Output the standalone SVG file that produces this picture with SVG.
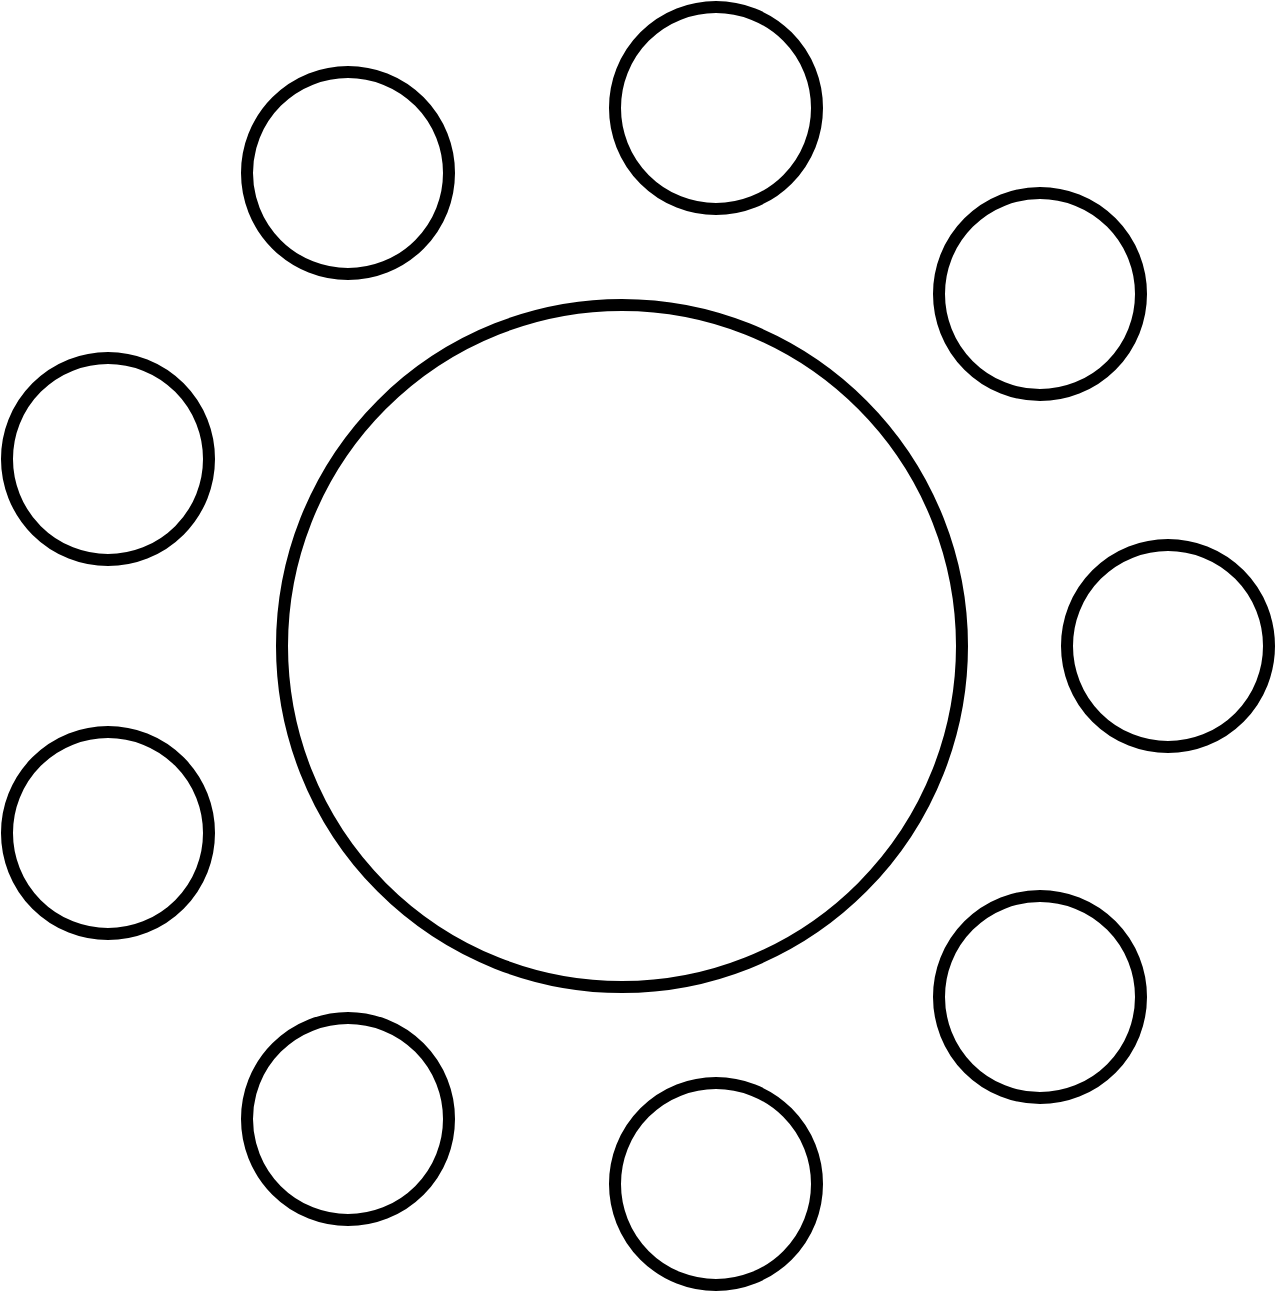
<svg xmlns="http://www.w3.org/2000/svg" width="1277" height="1293" viewBox="0 0 1277 1293">
<style>
.c{fill:#fff;stroke:#000;stroke-width:12}
</style>
<rect width="1277" height="1293" fill="#fff"/>
<g id="center"><ellipse class="c" cx="622" cy="646" rx="340" ry="341"/></g>
<g id="n1"><circle class="c" cx="716" cy="108" r="101"/></g>
<g id="n2"><circle class="c" cx="348" cy="173" r="101"/></g>
<g id="n3"><circle class="c" cx="1040" cy="294" r="101"/></g>
<g id="n4"><circle class="c" cx="108" cy="459" r="101"/></g>
<g id="n5"><circle class="c" cx="1168" cy="646" r="101"/></g>
<g id="n6"><circle class="c" cx="108" cy="833" r="101"/></g>
<g id="n7"><circle class="c" cx="1040" cy="997" r="101"/></g>
<g id="n8"><circle class="c" cx="348" cy="1119" r="101"/></g>
<g id="n9"><circle class="c" cx="716" cy="1184" r="101"/></g>
<g id="connectors"></g>
</svg>
